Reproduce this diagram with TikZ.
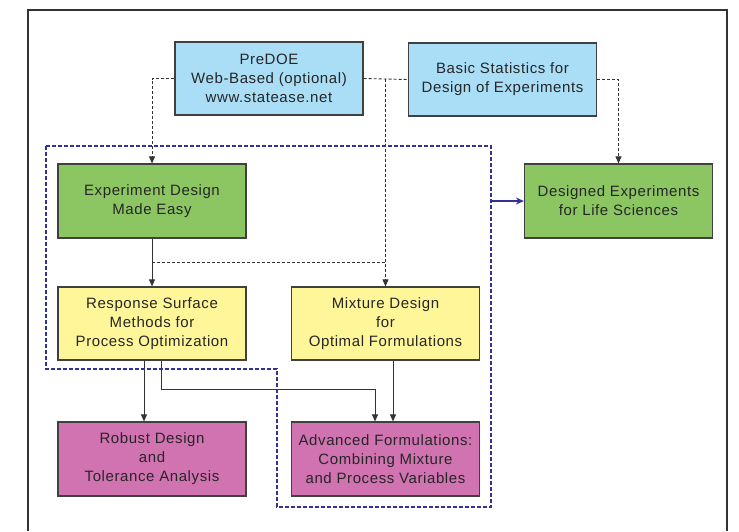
\documentclass[tikz,border=0pt]{standalone}
\usepackage{fontspec}
\setmainfont{Liberation Sans}[LetterSpace=4]
\usetikzlibrary{arrows.meta,calc}
\definecolor{cblue}{RGB}{170,222,246}
\definecolor{cgreen}{RGB}{140,198,99}
\definecolor{cyellow}{RGB}{255,246,153}
\definecolor{cpink}{RGB}{209,115,177}
\definecolor{cnavy}{RGB}{50,50,150}
\definecolor{cedge}{RGB}{64,64,64}

\begin{document}
\begin{tikzpicture}[x=1pt,y=-1pt,font=\fontsize{15}{19}\selectfont,
  box/.style={draw=cedge, line width=1.2pt, align=center, minimum width=188pt, minimum height=73pt, inner sep=2pt, text=black!85},
  arr/.style={-{Triangle[length=7pt,width=6pt]}, line width=0.9pt, black!80},
  dsh/.style={dash pattern=on 3pt off 2pt}]
\useasboundingbox (0,0) rectangle (739,531);
% outer frame, open at the bottom
\draw[line width=2.5pt, black!80] (28,531) -- (28,10) -- (727,10) -- (727,531);
% boxes
\node[box, fill=cblue] (predoe) at (269,78.5) {PreDOE\\Web-Based (optional)\\www.statease.net};
\node[box, fill=cblue] (basic) at (502.5,79.5) {Basic Statistics for\\Design of Experiments};
\node[box, fill=cgreen, minimum height=74pt] (ed) at (152,201) {Experiment Design\\Made Easy};
\node[box, fill=cgreen, minimum height=74pt] (life) at (618.5,201) {Designed Experiments\\for Life Sciences};
\node[box, fill=cyellow] (rsm) at (152,323.5) {Response Surface\\Methods for\\Process Optimization};
\node[box, fill=cyellow] (mix) at (385.5,323.5) {Mixture Design\\for\\Optimal Formulations};
\node[box, fill=cpink, minimum height=74pt] (robust) at (152,459) {Robust Design\\and\\Tolerance Analysis};
\node[box, fill=cpink, minimum height=74pt] (adv) at (385.5,459) {Advanced Formulations:\\Combining Mixture\\and Process Variables};
% dotted links from the top row
\draw[arr, dsh] (predoe.west) -| (ed.north);
\draw[arr, dsh] (basic.east) -| (life.north);
\draw[black!80, line width=0.9pt, dsh] (predoe.east) -- (basic.west);
\coordinate (split) at (predoe.east -| mix.north);
\draw[arr, dsh] (split) -- (mix.north);
\coordinate (mid) at ($(ed.south)!0.5!(rsm.north)$);
\draw[black!80, line width=0.9pt, dsh] (mid) -- (mid -| mix.north);
% solid links
\draw[arr] (ed.south) -- (rsm.north);
\draw[arr] ([xshift=-8pt]rsm.south) -- ([xshift=-8pt]robust.north);
\draw[arr] ([xshift=9pt]rsm.south) -- ++(0,29) -| ([xshift=-10.5pt]adv.north);
\draw[arr] ([xshift=7.5pt]mix.south) -- ([xshift=7.5pt]adv.north);
% blue dashed group
\draw[cnavy, line width=1.3pt, dash pattern=on 4pt off 2pt] (46,146) -- (491,146) -- (491,507) -- (277,507) -- (277,369) -- (46,369) -- cycle;
\coordinate (grp) at (491,201);
\draw[-{Stealth[length=8pt,width=7pt]}, cnavy, line width=1.4pt] (grp) -- (life.west);
\end{tikzpicture}
\end{document}
